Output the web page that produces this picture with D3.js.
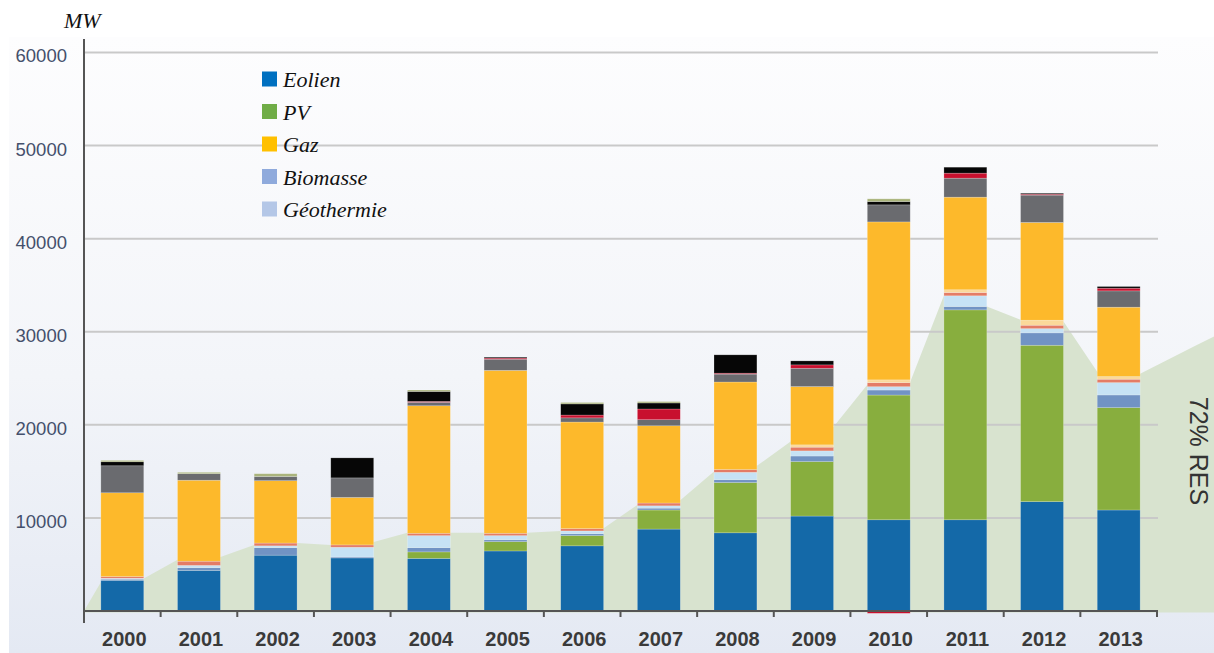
<!DOCTYPE html>
<html><head><meta charset="utf-8">
<script src="https://cdn.jsdelivr.net/npm/d3@7"></script>
<style>html,body{margin:0;padding:0;background:#fff;}svg{display:block;}</style>
</head><body>
<svg id="c" width="1214" height="653"></svg>
<script>
// ---------- data ----------
const years = ["2000","2001","2002","2003","2004","2005","2006","2007","2008","2009","2010","2011","2012","2013"];
const eolien      = [3300,4350,6000,5700,5650,6450,7000,8800,8400,10200,9800,9800,11750,10850];
const pv          = [0,0,0,0,700,1000,1100,2050,5400,5850,13400,22550,16800,11000];
const biomasse    = [120,300,800,100,450,200,200,200,300,600,540,360,1330,1360];
const geothermie  = [100,250,200,1050,1300,450,300,250,800,550,360,1150,460,1330];
const hydraulique = [180,450,300,250,250,250,250,300,300,400,430,360,360,360];
const csp         = [0,0,0,0,0,0,0,0,0,250,300,290,540,290];
const gaz         = [9000,8700,6700,5100,13700,17500,11450,8300,9400,6260,16970,9950,10500,7450];
const charbon     = [2900,700,450,2100,370,1200,450,650,850,1970,1830,2040,2940,1750];
const fioul       = [0,0,0,0,100,120,300,1150,100,360,-250,540,100,290];
const nucleaire   = [430,0,0,2150,1070,100,1200,650,1970,430,360,640,100,180];
const autres      = [150,150,300,0,150,0,150,150,0,0,290,0,0,0];
// RES background area (MW) read at the left / right edge of each bar, plus tail beyond 2013
const resLeft  = [3100,5500,7100,7100,8400,8400,8600,11400,15000,18200,24300,33900,31300,25700];
const resRight = [3500,5800,7300,7400,8400,8400,8900,11900,15600,19800,24600,32700,31100,25500];
const resTail  = [28500,32600];
const yTicks = [10000,20000,30000,40000,50000,60000];
const legendNames = ["Eolien","PV","Gaz","Biomasse","Géothermie"];
const legendColors = ["#0070c0","#70ad47","#ffc000","#8faadc","#b4c7e7"];
const seriesKeys = ["eolien","pv","biomasse","geothermie","hydraulique","csp","gaz","charbon","fioul","nucleaire","autres"];
const seriesColors = ["#1469a8","#88ae3e","#7193c4","#c6e2f5","#e47c66","#fbd99a","#fdb92b","#6a6b6f","#c8102e","#060606","#aab47c"];
const seriesArrays = [eolien,pv,biomasse,geothermie,hydraulique,csp,gaz,charbon,fioul,nucleaire,autres];

// ---------- build ----------
const svg = d3.select("#c");
const defs = svg.append("defs");
const grad = defs.append("linearGradient").attr("id","bg").attr("x1",0).attr("y1",0).attr("x2",0).attr("y2",1);
grad.append("stop").attr("offset","0%").attr("stop-color","#fdfdfe");
grad.append("stop").attr("offset","55%").attr("stop-color","#f3f5f9");
grad.append("stop").attr("offset","100%").attr("stop-color","#e4e9f3");
svg.append("rect").attr("x",9).attr("y",37).attr("width",1205).attr("height",616).attr("fill","url(#bg)");

const x = d3.scaleBand().domain(years).range([84,1157]).padding(0);
const y = d3.scaleLinear().domain([0,60000]).range([611,52.5]);
const bw = x.bandwidth();
const barW = bw*0.56;
const off = (bw-barW)/2;
const xi = d3.scaleLinear().domain([0,years.length-1]).range([x(years[0])+bw/2, x(years[years.length-1])+bw/2]);

// area
const pts = [{x:x(years[0]), v:0}];
years.forEach((yr,i)=>{ pts.push({x:x(yr)+off, v:resLeft[i]}); pts.push({x:x(yr)+off+barW, v:resRight[i]}); });
resTail.forEach((v,j)=>pts.push({x:xi(years.length+j), v:v}));
svg.append("path").datum(pts)
  .attr("d", d3.area().x(d=>d.x).y0(y(0)+1.5).y1(d=>y(d.v)))
  .attr("fill","#d8e3cf");

// gridlines
svg.append("g").selectAll("line").data(yTicks).join("line")
  .attr("x1",84).attr("x2",1158).attr("y1",d=>y(d)).attr("y2",d=>y(d))
  .attr("stroke","#c9c9c9").attr("stroke-width",2);

// stacked bars
const rows = years.map((yr,i)=>{ const r={year:yr}; seriesKeys.forEach((k,j)=>r[k]=seriesArrays[j][i]); return r; });
const stack = d3.stack().keys(seriesKeys).offset(d3.stackOffsetDiverging)(rows);
const gBars = svg.append("g");
stack.forEach((s,si)=>{
  gBars.append("g").attr("fill",seriesColors[si]).selectAll("rect").data(s.filter(d=>d[1]!==d[0])).join("rect")
    .attr("x",d=>x(d.data.year)+off).attr("width",barW)
    .attr("y",d=>y(Math.max(d[0],d[1]))).attr("height",d=>Math.abs(y(d[0])-y(d[1])))
    .attr("stroke","rgba(255,255,255,0.35)").attr("stroke-width",0.6);
});

// axes
svg.append("line").attr("x1",84).attr("x2",84).attr("y1",39).attr("y2",623).attr("stroke","#555").attr("stroke-width",2);
svg.append("line").attr("x1",83).attr("x2",1158).attr("y1",611).attr("y2",611).attr("stroke","#555").attr("stroke-width",2);
const bounds = years.map(yr=>x(yr)+bw);
svg.append("g").selectAll("line").data(bounds).join("line")
  .attr("x1",d=>d).attr("x2",d=>d).attr("y1",611).attr("y2",617).attr("stroke","#555").attr("stroke-width",2);

const xAxis = svg.append("g").attr("transform","translate(2,611)").call(d3.axisBottom(x).tickSize(0).tickPadding(0));
xAxis.select(".domain").remove();
xAxis.selectAll("text").attr("y",34.5).attr("dy",0).attr("font-family","Liberation Sans, Arial, sans-serif")
  .attr("font-size",20).attr("font-weight","bold").attr("fill","#3a3a3a");

const yAxis = svg.append("g").attr("transform","translate(67,0)").call(d3.axisLeft(y).tickValues(yTicks).tickSize(0).tickPadding(0).tickFormat(d3.format("d")));
yAxis.select(".domain").remove();
yAxis.selectAll("text").attr("dy","0.32em").attr("y",3.5).attr("font-family","Liberation Sans, Arial, sans-serif")
  .attr("font-size",18.5).attr("fill","#44506c");

// MW label
svg.append("text").attr("x",64).attr("y",28).text("MW")
  .attr("font-family","Liberation Serif, Times New Roman, serif").attr("font-style","italic").attr("font-size",22).attr("fill","#111");

// legend
const lg = svg.append("g");
legendNames.forEach((n,i)=>{
  const cy = 79 + i*32.5;
  lg.append("rect").attr("x",262).attr("y",cy-7.5).attr("width",15).attr("height",15).attr("fill",legendColors[i]);
  lg.append("text").attr("x",283).attr("y",cy+8).text(n)
    .attr("font-family","Liberation Serif, Times New Roman, serif").attr("font-style","italic").attr("font-size",22).attr("fill","#111");
});

// 72% RES
svg.append("text").attr("transform","translate(1199,451) rotate(90)").attr("text-anchor","middle")
  .attr("dominant-baseline","central").text("72% RES")
  .attr("font-family","Liberation Sans, Arial, sans-serif").attr("font-size",25).attr("fill","#333");
</script>
</body></html>
